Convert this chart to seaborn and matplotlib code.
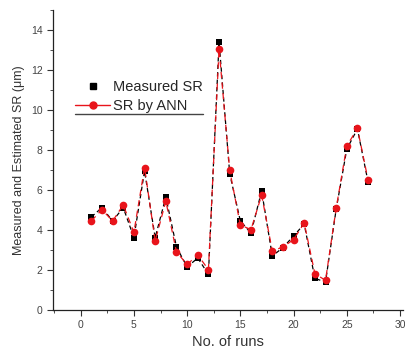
import numpy as np
import pandas as pd
import matplotlib
matplotlib.use("Agg")
import matplotlib.pyplot as plt
from matplotlib.lines import Line2D
from matplotlib.ticker import MultipleLocator
import seaborn as sns

runs = list(range(1, 28))
measured_sr = [4.65, 5.12, 4.45, 5.12, 3.62, 6.95, 3.62, 5.65, 3.15, 2.15, 2.6, 1.78,
               13.4, 6.82, 4.45, 3.85, 5.95, 2.7, 3.12, 3.7, 4.3, 1.58, 1.4, 5.03,
               8.05, 9.05, 6.4]
ann_sr = [4.45, 5.02, 4.45, 5.25, 3.88, 7.12, 3.45, 5.45, 2.9, 2.28, 2.75, 2.02,
          13.05, 6.98, 4.25, 4.02, 5.75, 2.95, 3.15, 3.52, 4.35, 1.82, 1.48, 5.08,
          8.2, 9.08, 6.5]

x_label = "No. of runs"
y_label = "Measured and Estimated SR (\u03bcm)"


def plot_sr(run_list, measured, estimated) -> None:
    """
    Measured vs ANN estimated surface roughness.
    """
    sns.set_style("ticks")
    plt.rcParams["font.family"] = ["Liberation Sans", "DejaVu Sans"]

    fig = plt.figure(figsize=(4.05, 3.56), dpi=100)
    ax = fig.add_axes([53 / 405, 46 / 356, 350 / 405, 300 / 356])

    df = pd.DataFrame({"run": run_list, "measured": measured, "ann": estimated})

    sns.lineplot(data=df, x="run", y="measured", ax=ax, color="black",
                 linestyle=(0, (3.5, 2.5)), linewidth=0.9, marker="s",
                 markersize=5, markeredgewidth=0, zorder=2)
    sns.lineplot(data=df, x="run", y="ann", ax=ax, color="#e8141b",
                 linestyle=(0, (5, 3.5)), linewidth=0.9, marker="o",
                 markersize=5.5, markeredgewidth=0, zorder=3)

    ax.set_xlim(-2.6, 30.28)
    ax.set_ylim(0, 15)
    ax.xaxis.set_major_locator(MultipleLocator(5))
    ax.xaxis.set_minor_locator(MultipleLocator(2.5))
    ax.yaxis.set_major_locator(MultipleLocator(2))
    ax.yaxis.set_minor_locator(MultipleLocator(1))
    ax.tick_params(which="major", length=4, width=0.8, labelsize=7.5,
                   labelcolor="#444444", color="#333333")
    ax.tick_params(which="minor", length=2, width=0.6, color="#333333")
    ax.set_xticks([0, 5, 10, 15, 20, 25, 30])

    for side in ["top", "right"]:
        ax.spines[side].set_visible(False)
    for side in ["left", "bottom"]:
        ax.spines[side].set_linewidth(0.9)
        ax.spines[side].set_color("#222222")

    ax.set_xlabel(x_label, fontsize=10.5, color="#333333", labelpad=3)
    ax.set_ylabel(y_label, fontsize=9, color="#333333", labelpad=4)

    handles = [
        Line2D([], [], color="black", marker="s", linestyle="none",
               markersize=5),
        Line2D([], [], color="#e8141b", marker="o", linestyle="-",
               markersize=5, linewidth=1),
    ]
    ax.legend(handles, ["Measured SR", "SR by ANN"], loc="upper left",
              bbox_to_anchor=(0.035, 0.80), frameon=False, fontsize=10.5,
              handlelength=2.4, handletextpad=0.2, labelspacing=0.32,
              borderaxespad=0.3)
    ax.add_line(Line2D([0.063, 0.429], [0.653, 0.653], transform=ax.transAxes,
                       color="#444444", linewidth=1))

    fig.savefig("out.png", dpi=100)


if __name__ == "__main__":
    plot_sr(runs, measured_sr, ann_sr)
